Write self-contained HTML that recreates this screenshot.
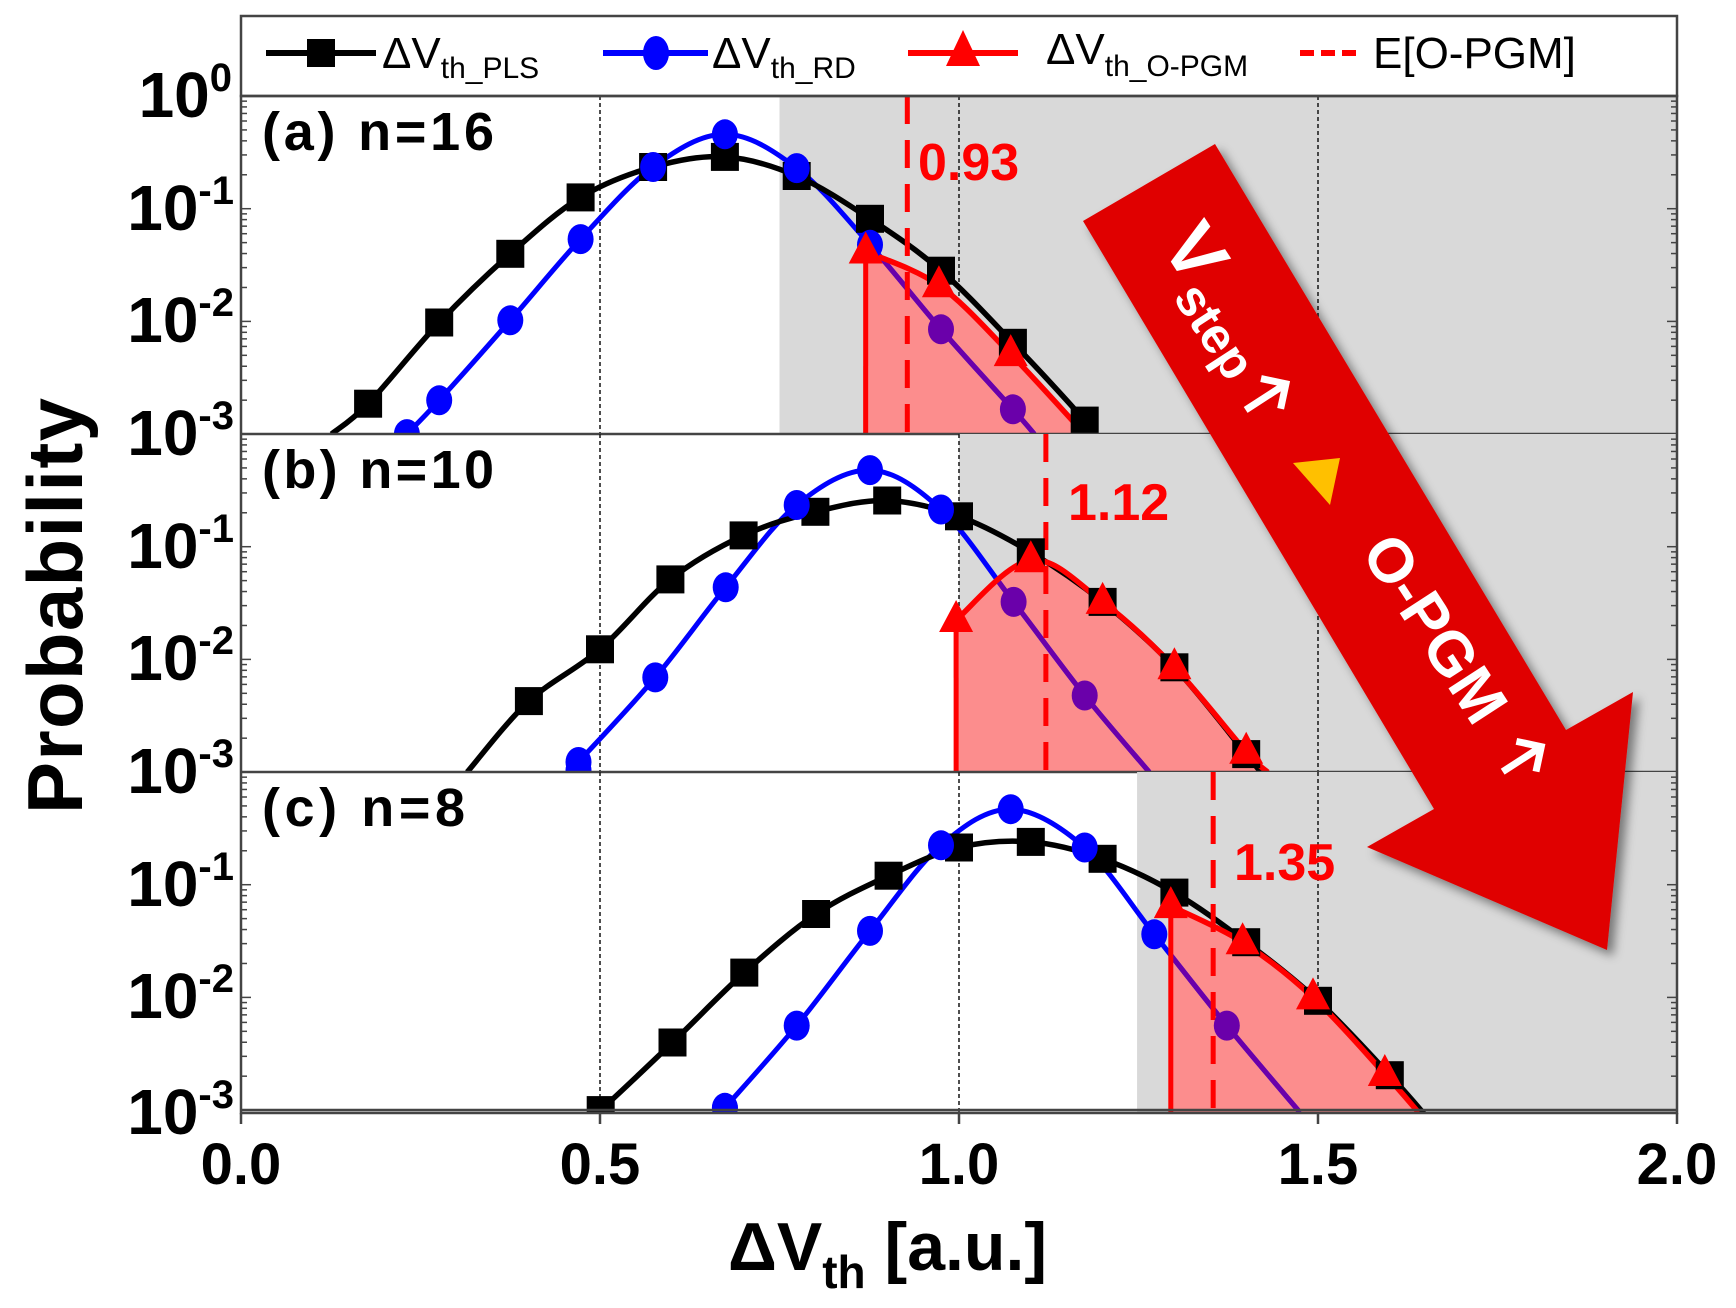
<!DOCTYPE html>
<html><head><meta charset="utf-8"><style>
html,body{margin:0;padding:0;background:#fff;}
svg{display:block;font-family:"Liberation Sans",Arial,sans-serif;}
</style></head><body>
<svg id="s" width="1736" height="1308" viewBox="0 0 1736 1308" xmlns="http://www.w3.org/2000/svg">
<defs>
<clipPath id="ca"><rect x="241" y="96" width="1436" height="338"/></clipPath>
<clipPath id="cb"><rect x="241" y="434" width="1436" height="338"/></clipPath>
<clipPath id="cc"><rect x="241" y="772" width="1436" height="341"/></clipPath>
<filter id="sh" x="-10%" y="-10%" width="130%" height="130%"><feDropShadow dx="6" dy="6" stdDeviation="5" flood-color="#000" flood-opacity="0.45"/></filter>
</defs>
<g id="plot"></g>
<rect x="241" y="16" width="1436" height="80" fill="none" stroke="#444" stroke-width="2.5"/>
<g font-size="44">
<line x1="266" y1="53" x2="376" y2="53" stroke="#000" stroke-width="6"/><rect x="307" y="39" width="28" height="28" fill="#000"/>
<text x="382" y="68">ΔV<tspan font-size="30" dy="10">th_PLS</tspan></text>
<line x1="603" y1="53" x2="708" y2="53" stroke="#00f" stroke-width="6"/><ellipse cx="656" cy="53" rx="13" ry="17" fill="#00f"/>
<text x="712" y="68">ΔV<tspan font-size="30" dy="10">th_RD</tspan></text>
<line x1="908" y1="53" x2="1018" y2="53" stroke="#f00" stroke-width="6"/><polygon points="963,30 946,66 980,66" fill="#f00"/>
<text x="1046" y="64">ΔV<tspan font-size="30" dy="12">th_O-PGM</tspan></text>
<line x1="1300" y1="53" x2="1357" y2="53" stroke="#f00" stroke-width="6" stroke-dasharray="14,7"/>
<text x="1373" y="68">E[O-PGM]</text>
</g>
<g font-size="64" font-weight="bold" text-anchor="end">
<text x="232" y="117">10<tspan font-size="40" dy="-26">0</tspan></text>
<text x="234" y="230">10<tspan font-size="40" dy="-26">-1</tspan></text>
<text x="234" y="342">10<tspan font-size="40" dy="-26">-2</tspan></text>
<text x="234" y="455">10<tspan font-size="40" dy="-26">-3</tspan></text>
<text x="234" y="568">10<tspan font-size="40" dy="-26">-1</tspan></text>
<text x="234" y="680">10<tspan font-size="40" dy="-26">-2</tspan></text>
<text x="234" y="793">10<tspan font-size="40" dy="-26">-3</tspan></text>
<text x="234" y="906">10<tspan font-size="40" dy="-26">-1</tspan></text>
<text x="234" y="1018">10<tspan font-size="40" dy="-26">-2</tspan></text>
<text x="234" y="1134">10<tspan font-size="40" dy="-26">-3</tspan></text>
</g>
<g font-size="58" font-weight="bold" text-anchor="middle">
<text x="241" y="1184">0.0</text><text x="600" y="1184">0.5</text><text x="959" y="1184">1.0</text><text x="1318" y="1184">1.5</text><text x="1677" y="1184">2.0</text>
</g>
<text x="0" y="0" font-size="78" font-weight="bold" text-anchor="middle" transform="translate(82,606) rotate(-90)" textLength="416">Probability</text>
<text x="728" y="1270" font-size="68" font-weight="bold">ΔV<tspan font-size="46" dy="18">th</tspan><tspan dy="-18"> [a.u.]</tspan></text>
<g font-size="54" font-weight="bold">
<text x="262" y="150" textLength="232">(a) n=16</text>
<text x="262" y="488" textLength="232">(b) n=10</text>
<text x="262" y="826" textLength="203">(c) n=8</text>
</g>
<g font-size="52" font-weight="bold" fill="#f00">
<text x="918" y="180">0.93</text>
<text x="1068" y="520">1.12</text>
<text x="1234" y="880">1.35</text>
</g>
<polygon filter="url(#sh)" fill="#e00000" points="1083,221 1215,144 1566,730 1633,692 1607,950 1367,847 1434,809"/>
<g fill="#fff" font-weight="bold">
<g transform="translate(1160,245) rotate(57)">
<text font-size="76">V<tspan font-size="50" dy="18">step</tspan></text>
<path d="M185,18 L185,-30 M167,-12 L185,-30 L203,-12" stroke="#fff" stroke-width="7" fill="none"/>
</g>
<g transform="translate(1360,552) rotate(57)">
<text font-size="62">O-PGM</text>
<path d="M262,0 L262,-46 M244,-28 L262,-46 L280,-28" stroke="#fff" stroke-width="7" fill="none"/>
</g>
</g>
<polygon points="1293,463 1340,458 1330,505" fill="#ffc000"/>
</svg>
<script>
const NS="http://www.w3.org/2000/svg";
const g=document.getElementById('plot');
const X=v=>241+v*718;
function el(t,a,p){const e=document.createElementNS(NS,t);for(const k in a)e.setAttribute(k,a[k]);(p||g).appendChild(e);return e;}
function cr(pts){
 let d="M"+pts[0][0]+","+pts[0][1];
 for(let i=0;i<pts.length-1;i++){
  const p0=pts[i-1]||pts[i],p1=pts[i],p2=pts[i+1],p3=pts[i+2]||p2;
  const c1=[p1[0]+(p2[0]-p0[0])/6,p1[1]+(p2[1]-p0[1])/6];
  const c2=[p2[0]-(p3[0]-p1[0])/6,p2[1]-(p3[1]-p1[1])/6];
  d+=" C"+c1+" "+c2+" "+p2;
 }
 return d;
}
const panels=[
 {top:96,clip:'ca',gray:0.75,
  K:[[0.126,-3],[0.177,-2.73],[0.276,-2.01],[0.375,-1.40],[0.473,-0.90],[0.574,-0.63],[0.674,-0.54],[0.774,-0.71],[0.876,-1.09],[0.975,-1.55],[1.075,-2.19],[1.175,-2.88],[1.2,-3.1]],
  B:[[0.231,-3],[0.276,-2.70],[0.375,-1.99],[0.473,-1.27],[0.574,-0.63],[0.674,-0.34],[0.774,-0.64],[0.876,-1.32],[0.975,-2.07],[1.075,-2.78],[1.105,-3]],
  R:[[0.87,-1.38],[0.972,-1.68],[1.072,-2.29],[1.175,-3]],rv:0.87,dash:0.928},
 {top:434,clip:'cb',gray:1.0,
  K:[[0.315,-3],[0.401,-2.37],[0.5,-1.91],[0.598,-1.29],[0.7,-0.90],[0.8,-0.69],[0.9,-0.59],[1.0,-0.73],[1.1,-1.05],[1.2,-1.49],[1.3,-2.07],[1.4,-2.84],[1.42,-3]],
  B:[[0.47,-2.91],[0.577,-2.16],[0.675,-1.36],[0.774,-0.63],[0.876,-0.32],[0.975,-0.67],[1.076,-1.49],[1.175,-2.32],[1.265,-3]],
  R:[[0.996,-1.65],[1.1,-1.12],[1.2,-1.49],[1.3,-2.07],[1.4,-2.82],[1.43,-3]],rv:0.996,dash:1.121},
 {top:772,clip:'cc',gray:1.248,
  K:[[0.48,-3.1],[0.501,-3.0],[0.601,-2.40],[0.701,-1.78],[0.801,-1.26],[0.902,-0.92],[1.0,-0.67],[1.1,-0.62],[1.2,-0.77],[1.3,-1.07],[1.4,-1.51],[1.5,-2.03],[1.6,-2.69],[1.65,-3.05]],
  B:[[0.674,-2.98],[0.774,-2.25],[0.876,-1.41],[0.975,-0.65],[1.072,-0.33],[1.175,-0.67],[1.272,-1.44],[1.373,-2.25],[1.475,-3.02]],
  R:[[1.295,-1.19],[1.395,-1.51],[1.493,-2.0],[1.593,-2.68],[1.64,-3.02]],rv:1.295,dash:1.354}
];
panels.forEach((P,pi)=>{
 const Y=l=>P.top-l*112.7, bot=P.top+338;
 const pg=el('g',{'clip-path':'url(#'+P.clip+')'});
 el('rect',{x:X(P.gray),y:P.top,width:1677-X(P.gray),height:340,fill:'#d9d9d9'},pg);
 [0.5,1.0,1.5].forEach(v=>el('line',{x1:X(v),y1:P.top,x2:X(v),y2:bot+3,stroke:'#222','stroke-width':1.6,'stroke-dasharray':'4,3'},pg));
 const toP=a=>a.map(p=>[+X(p[0]).toFixed(1),+Y(p[1]).toFixed(1)]);
 const K=toP(P.K),B=toP(P.B),R=toP(P.R);
 const rp=cr(R);
 const fd="M"+X(P.rv)+","+(bot+3)+" L"+R[0]+" "+rp.slice(1)+" L"+R[R.length-1][0]+","+(bot+3)+"Z";
 el('path',{d:fd,fill:'#fc8d8d'},pg);
 el('path',{d:cr(B),fill:'none',stroke:'#00f','stroke-width':5},pg);
 const cid='f'+pi;
 const cp=el('clipPath',{id:cid},pg);el('path',{d:fd},cp);
 el('path',{d:cr(B),fill:'none',stroke:'#6a00aa','stroke-width':5,'clip-path':'url(#'+cid+')'},pg);
 el('path',{d:cr(K),fill:'none',stroke:'#000','stroke-width':5.5},pg);
 el('line',{x1:X(P.rv),y1:bot+3,x2:R[0][0],y2:R[0][1],stroke:'#f00','stroke-width':5},pg);
 el('path',{d:rp,fill:'none',stroke:'#f00','stroke-width':5.5},pg);
 el('line',{x1:X(P.dash),y1:P.top,x2:X(P.dash),y2:bot+3,stroke:'#f00','stroke-width':5,'stroke-dasharray':'28,16'},pg);
 K.forEach((p,i)=>{if(i>0&&i<K.length-1)el('rect',{x:p[0]-14,y:p[1]-14,width:28,height:28,fill:'#000'},pg);});
 B.forEach((p,i)=>{if(i==B.length-1)return;
   const purple=P.B[i][0]>P.rv+0.02;el('ellipse',{cx:p[0],cy:p[1],rx:13,ry:15,fill:purple?'#6a00aa':'#00f'},pg);});
 if(pi==1)el('ellipse',{cx:B[0][0],cy:bot-2,rx:13,ry:13,fill:'#00f'},pg);
 if(pi==2)el('ellipse',{cx:X(0.674),cy:bot-2,rx:13,ry:13,fill:'#00f'},pg);
 R.forEach((p,i)=>{if(i==R.length-1)return;el('polygon',{points:[p[0],p[1]-20,p[0]-17,p[1]+12,p[0]+17,p[1]+12].join(' '),fill:'#f00'},pg);});
 for(let d=0;d<3;d++){for(let m=1;m<10;m++){const y=P.top+(d+1-Math.log10(m))*112.7;const L=m==1?10:6;
   el('line',{x1:241,y1:y,x2:241+L,y2:y,stroke:'#444','stroke-width':1.5});
   el('line',{x1:1677,y1:y,x2:1677-L,y2:y,stroke:'#444','stroke-width':1.5});}}
 el('line',{x1:241,y1:bot,x2:1677,y2:bot,stroke:'#444','stroke-width':2.5});
});
el('rect',{x:241,y:96,width:1436,height:1017,fill:'none',stroke:'#444','stroke-width':2.5});
[0,0.5,1,1.5,2].forEach(v=>el('line',{x1:X(v),y1:1113,x2:X(v),y2:1124,stroke:'#444','stroke-width':2.5}));
</script>
</body></html>
